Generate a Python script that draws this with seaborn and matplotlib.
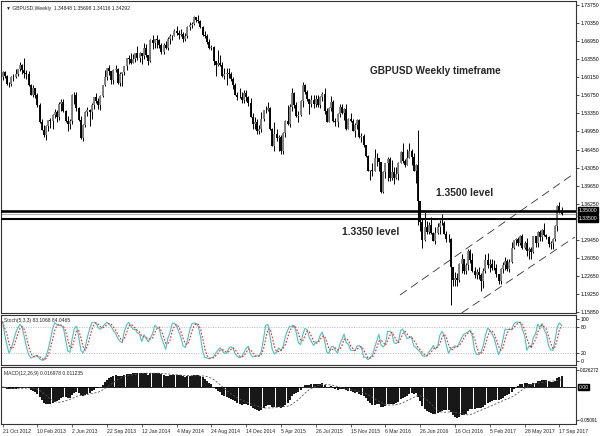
import numpy as np
import pandas as pd
import matplotlib
matplotlib.use('Agg')
import matplotlib.pyplot as plt
import seaborn as sns

# weekly GBPUSD bars, week 0 = 21 Oct 2012 (one bar per week)
first_open = 1.6025

close = [
    # 2012
    1.6125, 1.6035, 1.5895, 1.5890, 1.6025, 1.6025, 1.6085, 1.6170, 1.6255, 1.6150, 1.6095,
    # 2013
    1.6085, 1.5865, 1.5690, 1.5810, 1.5680, 1.5495, 1.5165, 1.5020, 1.4925, 1.5105,
    1.5210, 1.5190, 1.5305, 1.5365, 1.5275, 1.5505, 1.5555, 1.5375, 1.5195, 1.5130,
    1.5200, 1.5685, 1.5690, 1.5435, 1.5210, 1.4875, 1.5110, 1.5360, 1.5400, 1.5355,
    1.5500, 1.5640, 1.5570, 1.5495, 1.5660, 1.5865, 1.6020, 1.6190, 1.6130, 1.5970,
    1.6160, 1.6170, 1.5920, 1.6085, 1.6110, 1.6230, 1.6375, 1.6365, 1.6285, 1.6360,
    1.6470, 1.6385,
    # 2014
    1.6480, 1.6420, 1.6580, 1.6435, 1.6325, 1.6730, 1.6660, 1.6745, 1.6720, 1.6630,
    1.6490, 1.6635, 1.6565, 1.6745, 1.6795, 1.6805, 1.6890, 1.6860, 1.6815, 1.6835,
    1.6745, 1.6800, 1.6970, 1.7015, 1.7020, 1.7155, 1.7110, 1.7075, 1.6975, 1.6825,
    1.6790, 1.6690, 1.6565, 1.6595, 1.6325, 1.6260, 1.6295, 1.6245, 1.6040, 1.6085,
    1.6095, 1.6085, 1.5995, 1.5875, 1.5685, 1.5655, 1.5640, 1.5590, 1.5715, 1.5655,
    1.5540, 1.5270,
    # 2015
    1.5130, 1.5165, 1.4995, 1.5040, 1.5235, 1.5395, 1.5395, 1.5430, 1.5035, 1.4725,
    1.4955, 1.4880, 1.4900, 1.4620, 1.4960, 1.5185, 1.5140, 1.5450, 1.5730, 1.5495,
    1.5285, 1.5305, 1.5565, 1.5880, 1.5740, 1.5600, 1.5510, 1.5595, 1.5510, 1.5615,
    1.5495, 1.5640, 1.5700, 1.5380, 1.5170, 1.5430, 1.5545, 1.5195, 1.5170, 1.5320,
    1.5450, 1.5345, 1.5425, 1.5040, 1.5225, 1.5185, 1.5005, 1.5120, 1.5215, 1.4885,
    1.4905, 1.4735,
    # 2016
    1.4535, 1.4255, 1.4265, 1.4245, 1.4500, 1.4490, 1.4410, 1.3860, 1.4230, 1.4395,
    1.4480, 1.4125, 1.4230, 1.4125, 1.4195, 1.4405, 1.4615, 1.4440, 1.4370, 1.4500,
    1.4635, 1.4520, 1.4255, 1.4365, 1.3675, 1.3285, 1.2950, 1.3185, 1.3105, 1.3235,
    1.3080, 1.2935, 1.3075, 1.3185, 1.3270, 1.3270, 1.3055, 1.2970, 1.2970, 1.2435,
    1.2195, 1.2225, 1.2190, 1.2485, 1.2595, 1.2355, 1.2475, 1.2745, 1.2565, 1.2355,
    1.2280, 1.2340,
    # 2017
    1.2275, 1.2175, 1.2365, 1.2560, 1.2475, 1.2485, 1.2410, 1.2410, 1.2295, 1.2170,
    1.2395, 1.2475, 1.2550, 1.2405, 1.2525, 1.2795, 1.2940, 1.2970, 1.2885, 1.3030,
    1.2800, 1.2880, 1.2745, 1.2780, 1.2715, 1.3025, 1.2885, 1.3095, 1.2995, 1.3135,
    1.3040, 1.3010, 1.2875, 1.2880, 1.2965, 1.3205, 1.3595, 1.3495, 1.34292,
]

high = [
    # 2012
    1.6135, 1.6145, 1.6055, 1.5935, 1.6035, 1.6085, 1.6175, 1.6175, 1.6310, 1.6275, 1.6380,
    # 2013
    1.6160, 1.6130, 1.5895, 1.5870, 1.5825, 1.5720, 1.5525, 1.5235, 1.5110, 1.5115,
    1.5220, 1.5255, 1.5320, 1.5415, 1.5410, 1.5545, 1.5605, 1.5605, 1.5410, 1.5285,
    1.5235, 1.5695, 1.5735, 1.5750, 1.5455, 1.5290, 1.5145, 1.5375, 1.5450, 1.5415,
    1.5535, 1.5650, 1.5715, 1.5620, 1.5685, 1.5880, 1.6160, 1.6195, 1.6260, 1.6125,
    1.6180, 1.6260, 1.6195, 1.6120, 1.6125, 1.6235, 1.6385, 1.6445, 1.6485, 1.6465,
    1.6480, 1.6605,
    # 2014
    1.6490, 1.6485, 1.6665, 1.6640, 1.6440, 1.6745, 1.6820, 1.6750, 1.6825, 1.6740,
    1.6665, 1.6670, 1.6695, 1.6780, 1.6840, 1.6825, 1.6925, 1.6995, 1.6905, 1.6935,
    1.6880, 1.6850, 1.6995, 1.7065, 1.7060, 1.7180, 1.7165, 1.7190, 1.7100, 1.6980,
    1.6890, 1.6840, 1.6745, 1.6625, 1.6615, 1.6295, 1.6525, 1.6435, 1.6300, 1.6185,
    1.6185, 1.6185, 1.6125, 1.6030, 1.5910, 1.5740, 1.5825, 1.5740, 1.5785, 1.5785,
    1.5665, 1.5620,
    # 2015
    1.5335, 1.5270, 1.5230, 1.5120, 1.5355, 1.5405, 1.5475, 1.5550, 1.5450, 1.5060,
    1.5170, 1.5050, 1.4930, 1.4935, 1.4985, 1.5205, 1.5500, 1.5520, 1.5815, 1.5750,
    1.5550, 1.5390, 1.5590, 1.5930, 1.5885, 1.5785, 1.5550, 1.5675, 1.5690, 1.5675,
    1.5690, 1.5660, 1.5740, 1.5815, 1.5440, 1.5455, 1.5660, 1.5595, 1.5245, 1.5340,
    1.5510, 1.5510, 1.5440, 1.5505, 1.5245, 1.5335, 1.5235, 1.5160, 1.5235, 1.5240,
    1.4970, 1.4940,
    # 2016
    1.4745, 1.4560, 1.4275, 1.4405, 1.4665, 1.4590, 1.4475, 1.4415, 1.4250, 1.4395,
    1.4515, 1.4515, 1.4460, 1.4330, 1.4315, 1.4410, 1.4635, 1.4770, 1.4470, 1.4665,
    1.4770, 1.4665, 1.4590, 1.4375, 1.5020, 1.3535, 1.3355, 1.3480, 1.3310, 1.3285,
    1.3375, 1.3090, 1.3185, 1.3275, 1.3325, 1.3445, 1.3305, 1.3120, 1.3060, 1.2975,
    1.2385, 1.2335, 1.2330, 1.2510, 1.2675, 1.2545, 1.2505, 1.2775, 1.2775, 1.2705,
    1.2430, 1.2390,
    # 2017
    1.2430, 1.2325, 1.2415, 1.2675, 1.2705, 1.2580, 1.2580, 1.2570, 1.2490, 1.2300,
    1.2425, 1.2525, 1.2615, 1.2585, 1.2580, 1.2905, 1.2950, 1.2990, 1.3000, 1.3045,
    1.3050, 1.2920, 1.2975, 1.2815, 1.2810, 1.3030, 1.3030, 1.3115, 1.3125, 1.3150,
    1.3265, 1.3060, 1.3030, 1.2935, 1.2980, 1.3225, 1.3615, 1.3655, 1.35698,
]

low = [
    # 2012
    1.5975, 1.6010, 1.5875, 1.5830, 1.5855, 1.5955, 1.6010, 1.6035, 1.6140, 1.6090, 1.6005,
    # 2013
    1.5990, 1.5855, 1.5680, 1.5640, 1.5620, 1.5460, 1.5155, 1.5015, 1.4885, 1.4830,
    1.5005, 1.5070, 1.5040, 1.5250, 1.5175, 1.5205, 1.5380, 1.5355, 1.5175, 1.5005,
    1.5035, 1.5140, 1.5505, 1.5390, 1.5185, 1.4860, 1.4815, 1.5075, 1.5285, 1.5105,
    1.5230, 1.5425, 1.5535, 1.5425, 1.5410, 1.5640, 1.5860, 1.5960, 1.6070, 1.5890,
    1.5895, 1.6120, 1.5900, 1.5860, 1.5855, 1.6060, 1.6150, 1.6275, 1.6275, 1.6280,
    1.6300, 1.6340,
    # 2014
    1.6300, 1.6275, 1.6360, 1.6410, 1.6250, 1.6300, 1.6560, 1.6575, 1.6580, 1.6575,
    1.6465, 1.6460, 1.6555, 1.6540, 1.6655, 1.6715, 1.6795, 1.6825, 1.6735, 1.6800,
    1.6690, 1.6695, 1.6760, 1.6920, 1.6950, 1.7005, 1.7055, 1.7045, 1.6950, 1.6795,
    1.6760, 1.6650, 1.6555, 1.6525, 1.6245, 1.6050, 1.6230, 1.6225, 1.6025, 1.5990,
    1.5875, 1.6000, 1.5945, 1.5790, 1.5675, 1.5590, 1.5620, 1.5540, 1.5535, 1.5570,
    1.5485, 1.5265,
    # 2015
    1.5035, 1.5035, 1.4950, 1.4950, 1.4985, 1.5185, 1.5335, 1.5375, 1.5025, 1.4715,
    1.4635, 1.4820, 1.4635, 1.4565, 1.4575, 1.4885, 1.5115, 1.5080, 1.5390, 1.5445,
    1.5265, 1.5170, 1.5290, 1.5450, 1.5705, 1.5565, 1.5330, 1.5450, 1.5440, 1.5465,
    1.5450, 1.5440, 1.5575, 1.5330, 1.5165, 1.5165, 1.5380, 1.5165, 1.5105, 1.5085,
    1.5260, 1.5330, 1.5220, 1.5025, 1.5040, 1.5165, 1.4995, 1.4895, 1.5035, 1.4880,
    1.4805, 1.4710,
    # 2016
    1.4505, 1.4240, 1.4080, 1.4150, 1.4245, 1.4350, 1.4245, 1.3840, 1.3835, 1.4120,
    1.4055, 1.4055, 1.4080, 1.4005, 1.4105, 1.4085, 1.4400, 1.4400, 1.4330, 1.4410,
    1.4505, 1.4360, 1.4240, 1.4015, 1.3230, 1.3120, 1.2800, 1.2930, 1.3055, 1.3065,
    1.3055, 1.2925, 1.2865, 1.3050, 1.3055, 1.3235, 1.3050, 1.2915, 1.2915, 1.1720,
    1.2085, 1.2085, 1.2085, 1.2155, 1.2325, 1.2305, 1.2295, 1.2385, 1.2505, 1.2340,
    1.2230, 1.2200,
    # 2017
    1.2200, 1.1985, 1.2035, 1.2315, 1.2420, 1.2345, 1.2385, 1.2385, 1.2250, 1.2110,
    1.2110, 1.2325, 1.2375, 1.2365, 1.2345, 1.2515, 1.2775, 1.2845, 1.2840, 1.2845,
    1.2770, 1.2775, 1.2635, 1.2585, 1.2590, 1.2700, 1.2810, 1.2810, 1.2930, 1.2930,
    1.3030, 1.2955, 1.2810, 1.2775, 1.2775, 1.2920, 1.3110, 1.3450, 1.34116,
]

# axis text
date_labels = ['21 Oct 2012', '10 Feb 2013', '2 Jun 2013', '22 Sep 2013', '12 Jan 2014',
               '4 May 2014', '24 Aug 2014', '14 Dec 2014', '5 Apr 2015', '26 Jul 2015',
               '15 Nov 2015', '6 Mar 2016', '26 Jun 2016', '16 Oct 2016', '5 Feb 2017',
               '28 May 2017', '17 Sep 2017']
date_label_weeks = list(range(0, 257, 16))
price_ticks = [1.7375, 1.7035, 1.6695, 1.6355, 1.6015, 1.5675, 1.5335, 1.4995, 1.4645,
               1.4305, 1.3965, 1.3625, 1.2945, 1.2605, 1.2265, 1.1925, 1.1585]
levels = [1.3500, 1.3350]
bid = 1.34292
# hand drawn channel: (week, price) end points
channel_upper = [(182.7, 1.1906), (263.1, 1.4211)]
channel_lower = [(211.0, 1.1566), (263.1, 1.3002)]

df = pd.DataFrame({'close': close, 'high': high, 'low': low})
df['open'] = df['close'].shift(1).fillna(first_open)
df.loc[df.index[-1], 'open'] = 1.34848
df['week'] = np.arange(len(df))

# indicators, same settings as the terminal
hh = df['high'].rolling(5, min_periods=1).max()
ll = df['low'].rolling(5, min_periods=1).min()
df['k'] = 100 * (df['close'] - ll).rolling(3, min_periods=1).sum() / (hh - ll).rolling(3, min_periods=1).sum()
df['d'] = df['k'].rolling(3, min_periods=1).mean()
df['macd'] = df['close'].ewm(span=12, adjust=False).mean() - df['close'].ewm(span=26, adjust=False).mean()
df['signal'] = df['macd'].rolling(9, min_periods=1).mean()

sns.set_theme(style='white')
plt.rcParams['font.family'] = ['Liberation Sans', 'DejaVu Sans']

fig = plt.figure(figsize=(6, 4.36), dpi=100)

def px_axes(x0, y0, x1, y1):
    return fig.add_axes([x0 / 600, 1 - y1 / 436, (x1 - x0) / 600, (y1 - y0) / 436])

main = px_axes(1, 1, 576, 313)
stoch = px_axes(1, 315, 576, 365)
macd = px_axes(1, 367, 576, 424)

fs = 3.7
for ax in (main, stoch, macd):
    ax.set_xlim(-0.7, 263.6)
    for sp in ax.spines.values():
        sp.set_color('#333333')
        sp.set_linewidth(0.8)
    ax.yaxis.tick_right()
    ax.tick_params(axis='y', left=False, right=True, length=2, width=0.5, pad=1.2,
                   labelsize=fs, colors='black')
    ax.tick_params(axis='x', bottom=False, labelbottom=False)
    ax.set_xlabel('')
    ax.set_ylabel('')

# price bars
o = df['open'].values
c = df['close'].values
w = df['week'].values
top = np.maximum(df['high'].values, np.maximum(o, c))
bot = np.minimum(df['low'].values, np.minimum(o, c))
up = c >= o
main.vlines(w, bot, top, color='black', lw=0.7, zorder=3)
main.vlines(w[up], o[up], c[up], color='#808080', lw=1.35, zorder=3)
main.vlines(w[~up], c[~up], o[~up], color='black', lw=1.35, zorder=3)

main.set_ylim(1.1566, 1.7460)
main.set_yticks(price_ticks)
main.set_yticklabels(['%.5f' % p for p in price_ticks])

main.axhline(levels[0], color='black', lw=1.9, zorder=4)
main.axhline(levels[1], color='black', lw=1.5, zorder=4)
main.axhline(bid, color='#b5b5b5', lw=0.8, zorder=2)

for line in (channel_upper, channel_lower):
    xs, ys = zip(*line)
    main.plot(xs, ys, color='#333333', lw=0.6, ls=(0, (10, 6)), zorder=2)

ytr = main.get_yaxis_transform()
box = dict(fc='black', ec='black', pad=0.5)
main.text(1.004, bid, '%.5f' % bid, transform=ytr, fontsize=3.2, color='white',
          va='center', ha='left', bbox=box, zorder=5, clip_on=False)
for lv in levels:
    main.text(1.004, lv, '%.5f' % lv, transform=ytr, fontsize=fs, color='white',
              va='center', ha='left', bbox=box, zorder=6, clip_on=False)

main.text(0.008, 0.985, '\u25bc GBPUSD,Weekly  1.34848 1.35698 1.34116 1.34292',
          transform=main.transAxes, fontsize=3.6, va='top', ha='left')
main.text(0.7557, 0.7756, 'GBPUSD Weekly timeframe', transform=main.transAxes,
          fontsize=7.2, fontweight='bold', ha='center', va='center')
main.text(0.806, 0.386, '1.3500 level', transform=main.transAxes,
          fontsize=7.4, fontweight='bold', ha='center', va='center')
main.text(0.6435, 0.2596, '1.3350 level', transform=main.transAxes,
          fontsize=7.4, fontweight='bold', ha='center', va='center')

# stochastic
stoch.axhline(80, color='#a0a0a0', lw=0.5, ls=(0, (1.5, 2)))
stoch.axhline(20, color='#a0a0a0', lw=0.5, ls=(0, (1.5, 2)))
sns.lineplot(data=df, x='week', y='k', ax=stoch, color='#3cc8c0', lw=0.8)
sns.lineplot(data=df, x='week', y='d', ax=stoch, color='#ff2020', lw=0.8, ls=(0, (1.5, 1.5)))
stoch.set_ylim(-9.5, 109.5)
stoch.set_yticks([0, 20, 80, 100])
stoch.set_yticklabels(['0', '20', '80', '100'])
stoch.set_xlim(-0.7, 263.6)
stoch.tick_params(axis='x', bottom=False, labelbottom=False)
stoch.set_xlabel('')
stoch.set_ylabel('')
stoch.text(0.006, 0.95, 'Stoch(5,3,3) 83.1068 84.0465', transform=stoch.transAxes,
           fontsize=3.6, va='top', ha='left')

# macd
macd.axhline(0, color='black', lw=0.6, zorder=1)
macd.vlines(w, 0, df['macd'].values, color='black', lw=1.3, zorder=2)
sns.lineplot(data=df, x='week', y='signal', ax=macd, color='#555555', lw=0.6,
             ls=(0, (2.5, 2)), zorder=3)
macd.set_ylim(-0.0571, 0.0309)
macd.set_yticks([-0.05091, 0.026272])
macd.set_yticklabels(['-0.05091', '0.026272'])
macd.tick_params(axis='y', pad=1.0, labelsize=3.3)
macd.text(1.004, 0, '0.00', transform=macd.get_yaxis_transform(), fontsize=fs,
          color='white', va='center', ha='left', bbox=box, clip_on=False)
macd.text(0.006, 0.93, 'MACD(12,26,9) 0.016978 0.011235', transform=macd.transAxes,
          fontsize=3.6, va='top', ha='left')
macd.set_xlim(-0.7, 263.6)
macd.set_xticks(date_label_weeks)
macd.set_xticklabels(date_labels)
macd.tick_params(axis='x', bottom=True, labelbottom=True, length=2, width=0.5,
                 pad=1.5, labelsize=fs, direction='out')
for t in macd.get_xticklabels():
    t.set_ha('left')
macd.set_xlabel('')
macd.set_ylabel('')

fig.savefig('out.png', dpi=100)
